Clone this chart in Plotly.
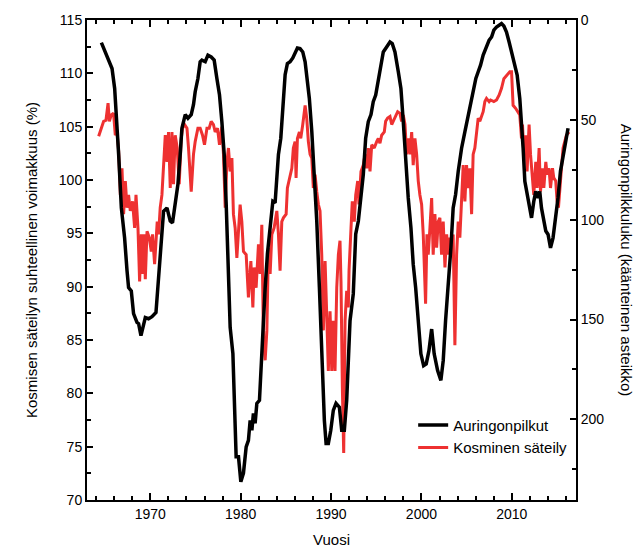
import plotly.graph_objects as go

# Sunspot number (right axis, reversed)
ss_years = [1964.59, 1965.10, 1965.77, 1966.06, 1966.32, 1966.50, 1966.80, 1967.16, 1967.43, 1967.60,
            1967.90, 1968.15, 1968.53, 1968.71, 1968.97, 1969.26, 1969.45, 1969.81, 1970.19, 1970.63,
            1970.85, 1970.99, 1971.22, 1971.47, 1971.85, 1972.21, 1972.46, 1972.76, 1973.06, 1973.31,
            1973.50, 1973.87, 1974.17, 1974.53, 1974.78, 1974.97, 1975.27, 1975.52, 1975.71, 1976.08,
            1976.38, 1976.74, 1977.07, 1977.37, 1977.66, 1977.92, 1978.18, 1978.40, 1978.65, 1978.84,
            1979.14, 1979.28, 1979.50, 1979.76, 1980.02, 1980.31, 1980.61, 1980.86, 1981.05, 1981.24,
            1981.41, 1981.60, 1981.79, 1982.08, 1982.23, 1982.45, 1982.71, 1982.96, 1983.26, 1983.56,
            1983.81, 1984.00, 1984.18, 1984.44, 1984.66, 1984.92, 1985.17, 1985.47, 1985.77, 1986.02,
            1986.28, 1986.57, 1986.87, 1987.13, 1987.38, 1987.60, 1987.87, 1988.12, 1988.42, 1988.71,
            1988.90, 1989.08, 1989.26, 1989.45, 1989.70, 1989.97, 1990.25, 1990.55, 1990.92, 1991.18,
            1991.47, 1991.73, 1992.10, 1992.46, 1992.73, 1993.02, 1993.31, 1993.57, 1993.83, 1994.12,
            1994.42, 1994.67, 1994.94, 1995.23, 1995.52, 1995.78, 1996.15, 1996.52, 1996.77, 1997.07,
            1997.44, 1997.73, 1997.99, 1998.25, 1998.54, 1998.84, 1999.09, 1999.36, 1999.65, 1999.94,
            2000.24, 2000.53, 2000.83, 2001.13, 2001.41, 2001.79, 2002.15, 2002.41, 2002.67, 2002.96,
            2003.26, 2003.51, 2003.78, 2004.07, 2004.44, 2004.81, 2005.17, 2005.44, 2005.72, 2006.02,
            2006.28, 2006.54, 2006.83, 2007.13, 2007.49, 2007.76, 2008.01, 2008.31, 2008.60, 2008.86,
            2009.12, 2009.41, 2009.70, 2009.97, 2010.33, 2010.59, 2010.88, 2011.07, 2011.25, 2011.44,
            2011.69, 2011.99, 2012.18, 2012.43, 2012.65, 2012.91, 2013.09, 2013.28, 2013.54, 2013.76,
            2014.01, 2014.28, 2014.56, 2014.86, 2015.11, 2015.38, 2015.67, 2015.97, 2016.22]
ss_values = [11.3, 16.8, 24.3, 34.3, 50.9, 67.3, 94.1, 109.1, 125.7, 134.0,
             135.7, 147.1, 151.5, 152.1, 158.1, 153.1, 149.0, 149.6, 148.6, 146.5,
             134.0, 122.2, 109.1, 95.8, 94.1, 100.7, 101.6, 90.8, 82.3, 67.3,
             54.2, 47.4, 49.2, 47.4, 42.4, 35.9, 29.3, 20.9, 20.1, 20.9,
             17.6, 18.5, 20.1, 29.3, 37.6, 50.9, 67.3, 92.3, 134.0, 154.0,
             167.1, 192.0, 218.8, 218.8, 231.3, 226.9, 213.8, 210.5, 200.5, 205.5,
             197.0, 202.0, 192.0, 190.5, 175.6, 159.0, 134.0, 117.2, 104.1, 90.8,
             91.6, 79.2, 67.3, 59.2, 42.4, 27.4, 21.8, 20.9, 19.0, 16.0,
             14.0, 14.3, 16.0, 20.9, 30.9, 39.3, 55.9, 75.8, 100.7, 134.0,
             159.0, 183.9, 200.5, 212.1, 212.1, 205.5, 195.5, 192.0, 193.9, 205.5,
             205.5, 190.5, 150.6, 137.2, 107.2, 100.7, 89.1, 77.3, 59.2, 50.9,
             47.4, 40.9, 37.6, 30.9, 22.6, 16.0, 13.5, 11.0, 11.8, 16.0,
             25.9, 34.3, 50.9, 70.8, 89.1, 104.1, 122.3, 134.0, 150.6, 167.2,
             173.1, 172.2, 165.6, 154.8, 167.2, 175.6, 180.5, 170.6, 150.6, 134.0,
             114.1, 94.1, 87.4, 75.8, 64.2, 55.9, 47.5, 42.5, 34.3, 29.3,
             25.9, 22.6, 17.6, 14.3, 10.1, 8.5, 5.1, 3.5, 2.6, 1.8,
             3.0, 6.0, 11.0, 16.0, 22.6, 27.6, 39.3, 50.9, 64.2, 80.8,
             87.4, 94.1, 99.1, 90.8, 85.8, 89.1, 85.8, 94.1, 100.7, 105.7,
             107.4, 114.1, 109.1, 99.1, 89.1, 75.8, 67.5, 59.2, 54.2]

# Cosmic ray relative intensity (%) (left axis)
cr_years = [1964.29, 1964.59, 1964.84, 1965.10, 1965.33, 1965.47, 1965.69, 1965.94, 1966.13, 1966.32,
            1966.50, 1966.69, 1966.87, 1967.05, 1967.24, 1967.43, 1967.60, 1967.79, 1968.04, 1968.27,
            1968.42, 1968.64, 1968.82, 1969.01, 1969.15, 1969.30, 1969.45, 1969.64, 1969.89, 1970.11,
            1970.25, 1970.48, 1970.63, 1970.77, 1970.92, 1971.10, 1971.29, 1971.47, 1971.66, 1971.85,
            1972.02, 1972.21, 1972.40, 1972.57, 1972.76, 1972.98, 1973.20, 1973.43, 1973.57, 1973.79,
            1974.06, 1974.23, 1974.53, 1974.78, 1974.97, 1975.27, 1975.52, 1975.78, 1976.00, 1976.27,
            1976.52, 1976.74, 1976.99, 1977.18, 1977.44, 1977.66, 1977.92, 1978.10, 1978.29, 1978.48,
            1978.65, 1978.84, 1979.03, 1979.20, 1979.39, 1979.58, 1979.76, 1979.94, 1980.13, 1980.31,
            1980.61, 1980.86, 1981.13, 1981.35, 1981.49, 1981.71, 1981.97, 1982.15, 1982.34, 1982.52,
            1982.71, 1982.90, 1983.07, 1983.26, 1983.45, 1983.70, 1984.00, 1984.18, 1984.36, 1984.55,
            1984.73, 1985.03, 1985.17, 1985.39, 1985.66, 1985.83, 1986.02, 1986.13, 1986.28, 1986.50,
            1986.65, 1986.87, 1987.13, 1987.31, 1987.49, 1987.68, 1987.87, 1988.04, 1988.23, 1988.42,
            1988.60, 1988.78, 1988.97, 1989.15, 1989.34, 1989.52, 1989.70, 1989.89, 1990.08, 1990.25,
            1990.44, 1990.63, 1990.81, 1990.99, 1991.10, 1991.25, 1991.40, 1991.55, 1991.73, 1991.91,
            1991.99, 1992.21, 1992.35, 1992.57, 1992.73, 1992.95, 1993.09, 1993.31, 1993.57, 1993.76,
            1993.94, 1994.12, 1994.31, 1994.50, 1994.78, 1995.05, 1995.23, 1995.41, 1995.60, 1995.89,
            1996.04, 1996.26, 1996.52, 1996.71, 1996.88, 1997.15, 1997.37, 1997.62, 1997.81, 1997.99,
            1998.18, 1998.36, 1998.54, 1998.73, 1998.92, 1999.09, 1999.28, 1999.47, 1999.65, 1999.83,
            2000.02, 2000.20, 2000.31, 2000.46, 2000.61, 2000.75, 2000.94, 2001.13, 2001.30, 2001.49,
            2001.68, 2001.86, 2002.04, 2002.23, 2002.41, 2002.60, 2002.79, 2002.96, 2003.15, 2003.34,
            2003.51, 2003.70, 2003.89, 2004.07, 2004.25, 2004.44, 2004.62, 2004.81, 2004.99, 2005.17,
            2005.36, 2005.55, 2005.72, 2005.91, 2006.10, 2006.28, 2006.46, 2006.65, 2006.83, 2007.02,
            2007.20, 2007.49, 2007.65, 2008.01, 2008.31, 2008.60, 2008.86, 2009.12, 2009.41, 2009.78,
            2009.97, 2010.14, 2010.44, 2010.70, 2010.88, 2011.07, 2011.18, 2011.33, 2011.55, 2011.69,
            2011.91, 2012.07, 2012.29, 2012.43, 2012.65, 2012.80, 2013.02, 2013.17, 2013.39, 2013.54,
            2013.76, 2013.90, 2014.12, 2014.28, 2014.50, 2014.64, 2014.86, 2015.01, 2015.16, 2015.30,
            2015.49, 2015.67, 2015.86, 2016.04, 2016.33]
cr_values = [104.1, 104.85, 105.5, 105.6, 107.2, 105.5, 106.1, 106.25, 104.2, 104.5,
             102.7, 98.6, 101.1, 96.8, 99.9, 97.4, 98.6, 97.1, 98.0, 95.5,
             98.6, 95.5, 90.5, 94.9, 91.2, 94.9, 90.7, 95.2, 94.6, 93.3,
             94.9, 92.1, 94.3, 96.1, 94.9, 97.4, 98.6, 101.1, 104.2, 101.7,
             104.5, 99.25, 104.5, 99.6, 104.2, 103.0, 99.6, 103.9, 104.85, 105.2,
             104.85, 103.0, 98.9, 102.4, 103.6, 104.85, 104.85, 104.2, 103.3, 104.85,
             104.85, 105.5, 105.2, 104.5, 104.85, 103.3, 105.0, 102.4, 97.4, 101.7,
             103.0, 100.8, 102.05, 96.8, 95.5, 92.7, 95.8, 97.7, 96.1, 93.3,
             93.0, 89.0, 92.4, 88.05, 91.8, 89.9, 93.97, 91.2, 95.8, 85.25,
             83.1, 85.9, 93.65, 91.2, 94.9, 95.5, 97.1, 94.9, 91.5, 96.1,
             96.45, 96.8, 99.25, 100.2, 101.1, 103.0, 103.6, 100.2, 103.9, 104.5,
             103.9, 105.2, 107.0, 105.8, 103.6, 102.4, 102.05, 99.25, 100.5, 98.9,
             97.7, 97.1, 93.0, 85.9, 92.4, 87.4, 82.1, 87.7, 82.1, 86.8,
             82.1, 89.9, 93.0, 94.3, 90.5, 80.6, 74.4, 86.8, 89.6, 88.05,
             91.5, 95.5, 98.0, 96.1, 98.6, 99.9, 97.7, 100.8, 101.4, 102.4,
             101.1, 103.0, 100.8, 103.3, 103.0, 103.6, 103.9, 103.45, 104.2, 104.5,
             105.5, 105.8, 105.95, 105.2, 105.5, 106.1, 106.4, 106.25, 105.5, 106.1,
             105.2, 102.4, 103.9, 102.4, 104.5, 101.4, 103.9, 102.4, 99.9, 98.6,
             97.7, 94.9, 91.8, 88.4, 94.9, 93.0, 95.5, 98.3, 93.0, 96.8,
             93.65, 96.1, 96.45, 93.0, 96.1, 91.8, 94.9, 93.0, 94.6, 93.65,
             94.9, 84.5, 93.0, 96.1, 94.6, 98.0, 101.4, 98.0, 101.4, 99.25,
             101.1, 96.8, 102.4, 103.0, 104.5, 105.8, 105.5, 106.1, 106.4, 107.35,
             107.65, 107.35, 107.5, 107.35, 107.5, 107.97, 108.6, 109.5, 109.8, 110.15,
             110.15, 107.0, 106.7, 106.4, 106.1, 103.9, 105.2, 102.4, 104.2, 100.8,
             105.2, 102.4, 99.9, 98.6, 101.7, 99.25, 103.0, 98.9, 101.1, 99.25,
             101.7, 100.5, 101.1, 99.25, 101.1, 100.2, 99.9, 98.0, 97.4, 99.25,
             101.1, 103.0, 103.6, 104.2, 104.5]

FONT = "Liberation Sans, Arial, Helvetica, sans-serif"

fig = go.Figure()
fig.add_trace(go.Scatter(x=ss_years, y=ss_values, mode="lines", name="Auringonpilkut",
                         line=dict(color="#000000", width=3.5), yaxis="y2"))
fig.add_trace(go.Scatter(x=cr_years, y=cr_values, mode="lines", name="Kosminen säteily",
                         line=dict(color="#EE3131", width=3), yaxis="y"))

fig.update_layout(
    width=641, height=550, autosize=False,
    margin=dict(l=87, r=65, t=18, b=50),
    paper_bgcolor="white", plot_bgcolor="white",
    font=dict(family=FONT, size=14, color="black"),
    showlegend=True,
    legend=dict(x=0.667, y=0.19, xanchor="left", yanchor="top",
                bgcolor="rgba(0,0,0,0)", borderwidth=0,
                font=dict(family=FONT, size=15, color="black"),
                tracegroupgap=0),
    xaxis=dict(range=[1963.0, 2017.1], showgrid=False, zeroline=False,
               showline=True, linecolor="black", linewidth=2, mirror="ticks",
               ticks="inside", ticklen=7, tickwidth=1.5, tickcolor="black",
               tick0=1970, dtick=10,
               minor=dict(ticks="inside", dtick=2, tick0=1970, ticklen=4,
                          tickwidth=1.5, tickcolor="black", showgrid=False),
               tickfont=dict(size=14)),
    yaxis=dict(range=[70, 115], showgrid=False, zeroline=False,
               showline=True, linecolor="black", linewidth=2, mirror=False,
               ticks="inside", ticklen=6, tickwidth=1.5, tickcolor="black",
               tick0=70, dtick=5,
               minor=dict(ticks="inside", dtick=2.5, tick0=70, ticklen=4,
                          tickwidth=1.5, tickcolor="black", showgrid=False),
               tickfont=dict(size=14)),
    yaxis2=dict(range=[240.4, 0], overlaying="y", side="right",
                showgrid=False, zeroline=False,
                showline=True, linecolor="black", linewidth=2,
                ticks="inside", ticklen=6, tickwidth=1.5, tickcolor="black",
                tickvals=[0, 50, 100, 150, 200],
                minor=dict(ticks="inside", tickvals=[25, 75, 125, 175, 225], ticklen=4,
                           tickwidth=1.5, tickcolor="black", showgrid=False),
                tickfont=dict(size=14)),
    annotations=[
        dict(text="Kosmisen säteilyn suhteellinen voimakkuus (%)", textangle=-90,
             xref="paper", yref="paper", x=-0.1145, y=0.5, xanchor="center", yanchor="middle",
             showarrow=False, font=dict(family=FONT, size=15, color="black")),
        dict(text="Auringonpilkkuluku (käänteinen asteikko)", textangle=90,
             xref="paper", yref="paper", x=1.105, y=0.5, xanchor="center", yanchor="middle",
             showarrow=False, font=dict(family=FONT, size=15, color="black")),
        dict(text="Vuosi", xref="paper", yref="paper", x=0.5, y=-0.0815,
             xanchor="center", yanchor="middle", showarrow=False,
             font=dict(family=FONT, size=15, color="black")),
    ],
)

fig.write_html("out.html")
